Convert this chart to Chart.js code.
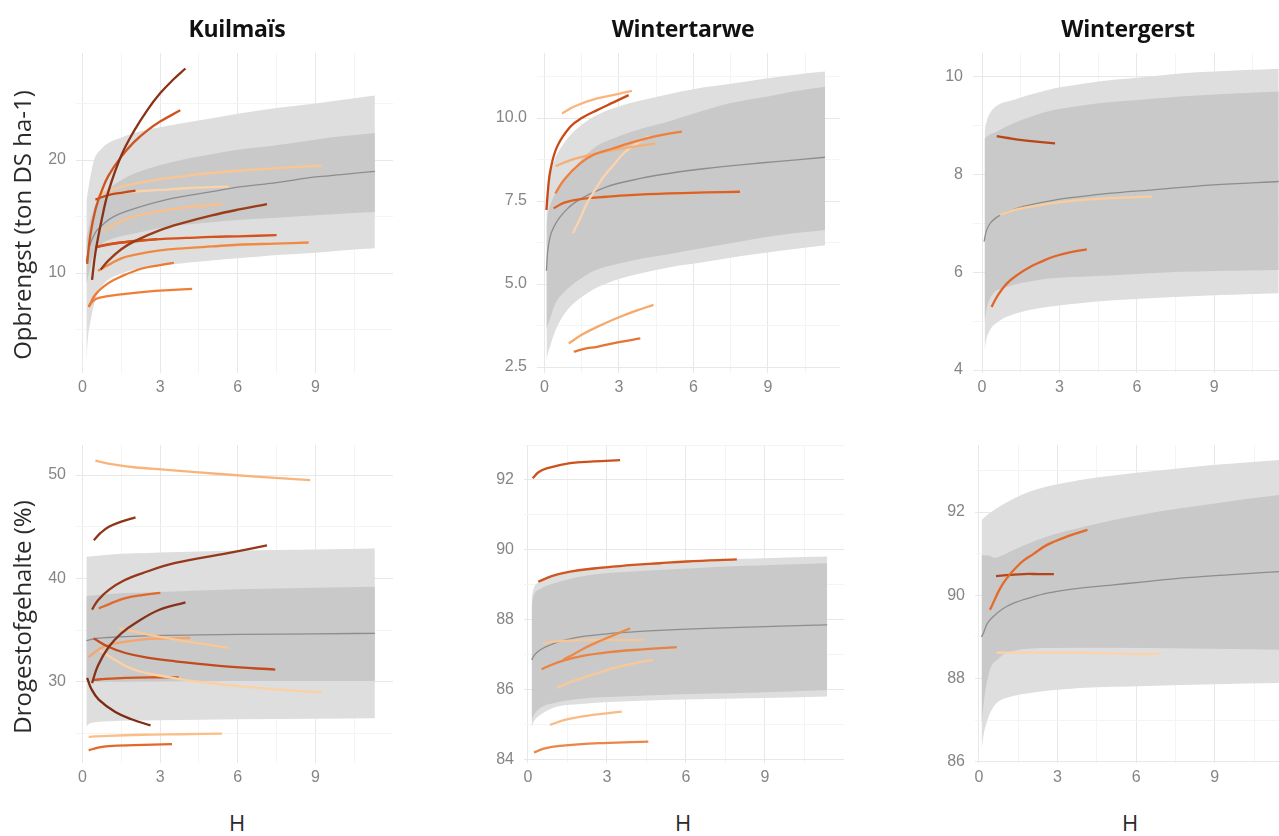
<!DOCTYPE html>
<html><head><meta charset="utf-8">
<script src="https://cdn.jsdelivr.net/npm/chart.js@4.4.1/dist/chart.umd.min.js"></script>
<style>
body{margin:0;background:#fff;width:1279px;height:836px;overflow:hidden;position:relative;font-family:"Open Sans",sans-serif;}
canvas{position:absolute;}
.t{position:absolute;transform:translate(-50%,-50%);white-space:nowrap;z-index:5;}
.title{font-weight:700;font-size:23px;color:#111;letter-spacing:-0.3px;}
.ytitle{font-size:24px;color:#2a2a2a;transform:translate(-50%,-50%) rotate(-90deg);}
.xtitle{font-size:22px;color:#2a2a2a;}
</style></head><body>
<div class="t title" style="left:237px;top:28px">Kuilmaïs</div>
<div class="t title" style="left:683px;top:28px">Wintertarwe</div>
<div class="t title" style="left:1128px;top:28px">Wintergerst</div>
<div class="t ytitle" style="left:21px;top:225px">Opbrengst (ton DS ha-1)</div>
<div class="t ytitle" style="left:21px;top:617px">Drogestofgehalte (%)</div>
<div class="t xtitle" style="left:237px;top:822px">H</div>
<div class="t xtitle" style="left:683px;top:822px">H</div>
<div class="t xtitle" style="left:1130px;top:822px">H</div>
<script>
// ---------- shared x axis ----------
const xTicks = [0,1.5,3,4.5,6,7.5,9,10.5];
const xTickLabels = [0,3,6,9];

// ---------- Kuilmaïs – Opbrengst ----------
const kmYieldX = [-0.25, 12];
const kmYieldY = [1.15, 29.47];
const kmYieldTicks = [5,10,15,20,25];
const kmYieldTickLabels = [10,20];
const kmYieldOuterTop = [[0.15,16.3],[0.25,17.8],[0.45,20.0],[0.7,20.9],[1.0,21.5],[1.5,22.0],[2.0,22.4],[3.25,23.0],[5.0,23.7],[6.0,24.1],[7.5,24.6],[9.0,25.0],[10.0,25.3],[11.3,25.7]];
const kmYieldInnerTop = [[0.15,13.0],[0.25,14.1],[0.45,15.8],[0.7,16.7],[1.0,17.4],[1.5,18.2],[2.0,18.8],[3.25,19.7],[5.0,20.5],[6.0,20.9],[7.5,21.3],[9.0,21.8],[10.0,22.1],[11.3,22.4]];
const kmYieldMean = [[0.15,11.0],[0.25,12.2],[0.5,13.6],[0.75,14.2],[1.0,14.7],[1.5,15.3],[2.0,15.7],[3.25,16.5],[5.0,17.2],[6.0,17.6],[7.5,18.0],[9.0,18.5],[10.0,18.7],[11.3,19.0]];
const kmYieldInnerBottom = [[0.15,9.0],[0.25,10.0],[0.45,11.8],[0.7,12.5],[1.0,12.9],[1.5,13.25],[2.0,13.5],[3.25,14.1],[5.0,14.5],[6.0,14.7],[7.5,14.9],[9.0,15.1],[10.0,15.25],[11.3,15.4]];
const kmYieldOuterBottom = [[0.15,2.0],[0.2,4.0],[0.3,5.6],[0.5,7.6],[0.75,8.8],[1.0,9.4],[1.5,9.95],[2.0,10.3],[3.25,10.7],[5.0,11.1],[6.0,11.3],[7.5,11.6],[9.0,11.8],[10.0,12.0],[11.3,12.2]];
const kmYieldCurves = [
  [[0.37,9.4],[0.5,11.8],[0.75,14.8],[1.0,17.2],[1.5,20.4],[2.0,22.6],[2.5,24.4],[3.0,25.9],[3.5,27.1],[3.98,28.1]],
  [[0.18,10.8],[0.3,13.3],[0.5,15.6],[0.75,17.3],[1.0,18.6],[1.5,20.3],[2.0,21.6],[2.5,22.6],[3.0,23.4],[3.78,24.4]],
  [[0.6,16.8],[1.0,17.3],[2,17.9],[3,18.3],[4,18.6],[5,18.85],[6,19.05],[7,19.2],[8,19.35],[9.25,19.5]],
  [[0.5,16.5],[1.0,16.9],[1.5,17.1],[2.05,17.3]],
  [[0.9,16.9],[2,17.2],[3,17.35],[4,17.5],[5.65,17.65]],
  [[0.8,13.8],[1.5,14.6],[2,15.0],[3,15.5],[4,15.8],[5.4,16.1]],
  [[0.7,10.3],[1.0,11.1],[1.5,12.1],[2.0,12.8],[3.0,13.8],[4.0,14.5],[5.0,15.1],[6.0,15.6],[7.13,16.1]],
  [[0.5,12.3],[1,12.55],[2,12.8],[3,13.0],[4,13.1],[5,13.2],[6,13.25],[7.5,13.35]],
  [[0.57,12.3],[1.5,12.7],[2.9,13.0]],
  [[0.6,10.2],[1.0,10.7],[1.5,11.3],[2,11.6],[3,12.0],[4,12.2],[5,12.35],[6,12.5],[7.45,12.6],[8.74,12.7]],
  [[0.24,7.0],[0.5,8.1],[1.0,9.1],[1.5,9.7],[2.3,10.4],[3.0,10.7],[3.53,10.9]],
  [[0.24,7.0],[0.4,7.5],[0.63,7.8],[1.5,8.1],[2.5,8.35],[3.5,8.5],[4.24,8.6]]
];
const kmYieldColors = ['#8a3216','#cf5520','#fbc592','#c44a16','#fbd3aa','#fbbf8a','#9a3c17','#d5521b','#c8481a','#f08a43','#ee7a33','#f07e36'];

// ---------- Wintertarwe – Opbrengst ----------
const wwYieldX = [-0.3, 11.9];
const wwYieldY = [2.32, 11.96];
const wwYieldTicks = [2.5,3.75,5,6.25,7.5,8.75,10,11.25];
const wwYieldTickLabels = [2.5,5,7.5,10];
const wwYieldOuterTop = [[0.08,7.4],[0.12,7.85],[0.2,8.2],[0.35,8.6],[0.5,8.9],[0.75,9.2],[1.0,9.45],[1.5,9.8],[2.0,10.05],[3.0,10.35],[4.0,10.55],[5.0,10.72],[6.0,10.87],[7.5,11.03],[9.0,11.2],[10.0,11.3],[11.3,11.4]];
const wwYieldInnerTop = [[0.08,6.8],[0.12,7.05],[0.2,7.3],[0.35,7.6],[0.5,7.8],[0.75,8.05],[1.0,8.3],[1.5,8.75],[2.0,9.1],[3.0,9.45],[4.0,9.7],[5.0,9.9],[6.0,10.13],[7.5,10.45],[9.0,10.65],[10.0,10.8],[11.3,10.94]];
const wwYieldMean = [[0.08,5.4],[0.12,5.9],[0.22,6.4],[0.4,6.75],[0.64,7.03],[0.9,7.25],[1.18,7.43],[1.8,7.7],[2.5,7.93],[3.86,8.18],[5.0,8.33],[6.5,8.48],[8.0,8.6],[9.2,8.68],[11.3,8.82]];
const wwYieldInnerBottom = [[0.08,3.6],[0.12,3.75],[0.2,3.9],[0.35,4.25],[0.5,4.5],[0.75,4.72],[1.0,4.9],[1.5,5.18],[2.0,5.4],[3.0,5.62],[4.0,5.78],[5.0,5.9],[6.5,6.1],[8.0,6.3],[9.5,6.48],[11.3,6.63]];
const wwYieldOuterBottom = [[0.08,2.7],[0.14,2.92],[0.22,3.1],[0.35,3.42],[0.5,3.7],[0.8,4.1],[1.18,4.42],[1.6,4.66],[2.0,4.85],[3.0,5.15],[3.86,5.32],[5.0,5.5],[6.5,5.67],[8.0,5.85],[9.5,6.0],[11.3,6.17]];
const wwYieldCurves = [
  [[0.71,10.14],[1.2,10.35],[2.12,10.59],[3.0,10.73],[3.52,10.82]],
  [[0.08,7.23],[0.15,7.9],[0.24,8.43],[0.51,9.14],[1.04,9.74],[1.5,10.0],[2.12,10.24],[2.8,10.48],[3.39,10.69]],
  [[0.44,7.73],[0.8,8.15],[1.45,8.64],[2.0,8.9],[2.78,9.09],[3.5,9.26],[4.12,9.39],[4.8,9.5],[5.53,9.59]],
  [[0.45,8.55],[1.0,8.72],[2.0,8.92],[3.0,9.07],[4.46,9.24]],
  [[1.15,6.53],[1.45,7.0],[1.71,7.43],[2.05,7.85],[2.38,8.23],[2.8,8.6],[3.19,8.94],[3.6,9.18],[4.2,9.45]],
  [[0.37,7.28],[0.8,7.45],[1.45,7.56],[2.5,7.63],[3.45,7.68],[5.0,7.73],[6.5,7.76],[7.87,7.78]],
  [[0.98,3.21],[1.5,3.47],[2.12,3.71],[3.0,4.0],[3.7,4.2],[4.39,4.37]],
  [[1.18,2.96],[1.6,3.05],[2.12,3.11],[3.0,3.25],[3.86,3.36]]
];
const wwYieldColors = ['#fbb47c','#c94a18','#ef7f3c','#f7ae72','#fcd3ad','#e0601f','#f6a96c','#e57535'];

// ---------- Wintergerst – Opbrengst ----------
const wgYieldX = [-0.35, 11.51];
const wgYieldY = [3.94, 10.49];
const wgYieldTicks = [4,5,6,7,8,9,10];
const wgYieldTickLabels = [4,6,8,10];
const wgYieldOuterTop = [[0.1,8.9],[0.18,9.1],[0.31,9.26],[0.6,9.42],[1.21,9.53],[2.5,9.73],[3.8,9.85],[5.09,9.94],[6.5,10.01],[7.67,10.07],[9.0,10.11],[10.2,10.14],[11.5,10.17]];
const wgYieldInnerTop = [[0.1,8.74],[0.3,8.82],[0.57,8.88],[1.21,9.05],[2.5,9.29],[3.8,9.41],[5.09,9.49],[6.5,9.55],[7.67,9.6],[9.0,9.64],[10.2,9.67],[11.5,9.7]];
const wgYieldMean = [[0.08,6.63],[0.15,6.82],[0.31,7.0],[0.55,7.12],[0.83,7.2],[1.3,7.3],[1.86,7.38],[2.8,7.48],[3.8,7.55],[5.0,7.62],[6.38,7.68],[8.97,7.79],[11.5,7.86]];
const wgYieldInnerBottom = [[0.1,5.0],[0.2,5.3],[0.44,5.57],[0.8,5.67],[1.21,5.74],[2.5,5.87],[3.8,5.91],[5.09,5.94],[6.5,5.98],[7.67,6.01],[9.0,6.03],[11.5,6.05]];
const wgYieldOuterBottom = [[0.08,4.3],[0.15,4.58],[0.31,4.82],[0.6,4.98],[0.96,5.09],[1.6,5.2],[2.5,5.29],[3.8,5.37],[5.09,5.43],[6.5,5.47],[7.67,5.5],[9.0,5.53],[11.5,5.57]];
const wgYieldCurves = [
  [[0.57,8.79],[1.0,8.75],[1.47,8.71],[2.2,8.67],[2.83,8.64]],
  [[0.7,7.17],[1.2,7.27],[1.86,7.34],[2.8,7.42],[3.8,7.48],[5.0,7.52],[6.58,7.55]],
  [[0.37,5.29],[0.6,5.52],[0.96,5.77],[1.4,5.96],[1.86,6.11],[2.3,6.22],[2.76,6.32],[3.4,6.41],[4.06,6.47]]
];
const wgYieldColors = ['#b9451b','#fbcc9e','#e0652a'];

// ---------- Kuilmaïs – Drogestofgehalte ----------
const kmDsX = [-0.25, 12];
const kmDsY = [22.17, 52.9];
const kmDsTicks = [25,30,35,40,45,50];
const kmDsTickLabels = [30,40,50];
const kmDsOuterTop = [[0.15,42.1],[1,42.3],[3,42.5],[6,42.7],[9,42.8],[11.3,42.9]];
const kmDsInnerTop = [[0.15,38.3],[1,38.5],[3,38.7],[6,38.95],[9,39.1],[11.3,39.2]];
const kmDsMean = [[0.15,34.0],[0.5,34.2],[1,34.3],[3,34.5],[6,34.6],[9,34.65],[11.3,34.7]];
const kmDsInnerBottom = [[0.15,30.0],[3,30.05],[6,30.1],[11.3,30.1]];
const kmDsOuterBottom = [[0.15,25.7],[0.3,26.0],[1,26.2],[3,26.3],[6,26.4],[9,26.45],[11.3,26.5]];
const kmDsCurves = [
  [[0.5,51.4],[1.0,51.1],[2.0,50.75],[3.27,50.5],[4.5,50.25],[5.84,50.0],[7.3,49.75],[8.8,49.5]],
  [[0.44,43.7],[0.7,44.4],[1.02,45.0],[1.5,45.5],[2.05,45.9]],
  [[0.37,37.0],[0.6,37.9],[1.02,38.9],[1.6,39.8],[2.3,40.5],[3.59,41.5],[5.52,42.4],[7.13,43.2]],
  [[0.63,37.1],[1.1,37.6],[1.66,38.1],[2.3,38.4],[3.01,38.6]],
  [[0.37,29.9],[0.6,31.6],[1.02,33.4],[1.5,34.7],[2.05,35.7],[2.95,36.96],[3.98,37.7]],
  [[0.44,34.2],[1.0,33.4],[1.66,32.8],[2.5,32.35],[3.59,32.0],[5.52,31.5],[7.45,31.2]],
  [[1.4,35.2],[2.5,34.6],[3.59,34.1],[4.6,33.7],[5.65,33.3]],
  [[0.24,32.4],[0.6,33.1],[1.02,33.6],[2.3,34.1],[3.2,34.2],[4.17,34.25]],
  [[0.6,33.2],[1.08,32.4],[2.0,31.2],[3.59,30.35],[4.88,29.9],[6.5,29.5],[8.22,29.15],[9.25,29.0]],
  [[0.44,30.2],[0.9,30.3],[1.66,30.4],[2.6,30.45],[3.72,30.45]],
  [[0.18,30.4],[0.35,29.3],[0.63,28.3],[1.27,27.1],[1.9,26.4],[2.63,25.8]],
  [[0.24,24.7],[1.0,24.8],[2.3,24.9],[3.8,24.95],[5.39,25.0]],
  [[0.24,23.4],[0.6,23.65],[1.02,23.8],[2.0,23.9],[3.46,24.0]]
];
const kmDsColors = ['#f9b47b','#8e3516','#953819','#e0692b','#86321a','#c24a1c','#fbc795','#f6a467','#fcd0a5','#d1561f','#7c2c14','#fbbe88','#e3692a'];

// ---------- Wintertarwe – Drogestofgehalte ----------
const wwDsX = [-0.15, 12];
const wwDsY = [83.91, 93.0];
const wwDsTicks = [84,85,86,87,88,89,90,91,92,93];
const wwDsTickLabels = [84,86,88,90,92];
const wwDsOuterTop = [[0.14,88.6],[0.2,88.86],[0.5,89.1],[0.96,89.24],[2.23,89.48],[3.5,89.56],[4.76,89.62],[6.3,89.68],[7.93,89.74],[9.5,89.78],[11.36,89.81]];
const wwDsInnerTop = [[0.14,88.4],[0.2,88.65],[0.5,88.9],[1.0,89.05],[2.23,89.27],[3.5,89.36],[4.76,89.42],[6.3,89.48],[7.93,89.54],[9.5,89.58],[11.36,89.62]];
const wwDsMean = [[0.14,86.86],[0.25,87.0],[0.46,87.14],[1.0,87.33],[1.72,87.48],[3.0,87.6],[4.26,87.67],[6.8,87.76],[9.0,87.81],[11.36,87.86]];
const wwDsInnerBottom = [[0.14,85.1],[0.2,85.24],[0.5,85.5],[0.96,85.62],[2.0,85.75],[3.5,85.81],[5.5,85.87],[8.44,85.92],[11.36,86.0]];
const wwDsOuterBottom = [[0.14,84.9],[0.2,85.05],[0.5,85.3],[1.09,85.52],[2.0,85.6],[3.5,85.67],[5.5,85.72],[8.44,85.76],[11.36,85.81]];
const wwDsCurves = [
  [[0.18,92.05],[0.4,92.22],[0.71,92.33],[1.6,92.48],[2.5,92.53],[3.5,92.57]],
  [[0.39,89.09],[0.9,89.25],[1.6,89.38],[2.5,89.47],[3.5,89.54],[5.0,89.62],[6.03,89.67],[7.93,89.73]],
  [[1.34,86.86],[1.8,87.05],[2.3,87.25],[2.8,87.42],[3.3,87.58],[3.88,87.76]],
  [[0.52,86.59],[0.9,86.72],[1.4,86.85],[2.0,86.96],[3.0,87.07],[4.0,87.14],[5.65,87.22]],
  [[0.58,87.33],[1.0,87.38],[2.0,87.42],[2.86,87.43],[4.38,87.42]],
  [[1.09,86.05],[1.6,86.22],[2.23,86.38],[2.9,86.54],[3.5,86.67],[4.1,86.77],[4.76,86.86]],
  [[0.84,85.0],[1.4,85.14],[2.23,85.26],[3.0,85.33],[3.56,85.38]],
  [[0.23,84.21],[0.6,84.32],[1.22,84.4],[2.86,84.48],[4.57,84.52]]
];
const wwDsColors = ['#cc521c','#d0561f','#ee8a48','#e98343','#f8c595','#f9c898','#f9bb86','#eb8646'];

// ---------- Wintergerst – Drogestofgehalte ----------
const wgDsX = [-0.15, 11.45];
const wgDsY = [85.97, 93.61];
const wgDsTicks = [86,87,88,89,90,91,92,93];
const wgDsTickLabels = [86,88,90,92];
const wgDsOuterTop = [[0.1,91.8],[0.17,91.85],[0.68,92.09],[1.95,92.49],[3.86,92.77],[5.13,92.88],[6.4,92.97],[7.69,93.05],[8.94,93.13],[10.2,93.19],[11.45,93.25]];
const wgDsInnerTop = [[0.1,90.97],[0.4,90.95],[0.6,90.9],[0.9,90.96],[1.32,91.09],[2.6,91.41],[3.86,91.62],[5.13,91.81],[6.4,91.96],[7.69,92.09],[8.94,92.2],[10.2,92.31],[11.45,92.41]];
const wgDsMean = [[0.1,89.0],[0.17,89.09],[0.3,89.3],[0.55,89.49],[0.9,89.67],[1.32,89.81],[2.0,89.95],[2.6,90.05],[3.86,90.17],[5.13,90.25],[6.4,90.33],[7.69,90.41],[9.5,90.49],[11.45,90.57]];
const wgDsInnerBottom = [[0.1,86.9],[0.2,87.5],[0.42,88.21],[0.7,88.45],[1.06,88.61],[2.6,88.73],[5.0,88.74],[8.0,88.72],[11.45,88.69]];
const wgDsOuterBottom = [[0.1,86.29],[0.18,86.65],[0.29,86.93],[0.45,87.2],[0.68,87.41],[1.2,87.56],[1.95,87.65],[3.86,87.77],[6.4,87.82],[9.0,87.86],[11.45,87.89]];
const wgDsCurves = [
  [[0.42,89.65],[0.93,90.29],[1.58,90.77],[2.1,91.0],[2.6,91.21],[3.4,91.42],[4.14,91.57]],
  [[0.65,90.46],[1.2,90.49],[1.7,90.51],[2.3,90.51],[2.86,90.51]],
  [[0.68,88.62],[2.0,88.62],[3.86,88.62],[5.5,88.6],[6.9,88.59]]
];
const wgDsColors = ['#e36a27','#b4451b','#fbd2ab'];

// ---------- layout (page pixels of each plot area) ----------
const panels = [
  {box:[76,53,393,373], xr:kmYieldX, yr:kmYieldY, yt:kmYieldTicks, yl:kmYieldTickLabels, fmt:v=>String(v),
   ot:kmYieldOuterTop, it:kmYieldInnerTop, m:kmYieldMean, ib:kmYieldInnerBottom, ob:kmYieldOuterBottom, c:kmYieldCurves, col:kmYieldColors},
  {box:[537,53,840,373], xr:wwYieldX, yr:wwYieldY, yt:wwYieldTicks, yl:wwYieldTickLabels, fmt:v=>v.toFixed(1),
   ot:wwYieldOuterTop, it:wwYieldInnerTop, m:wwYieldMean, ib:wwYieldInnerBottom, ob:wwYieldOuterBottom, c:wwYieldCurves, col:wwYieldColors},
  {box:[973,53,1279,373], xr:wgYieldX, yr:wgYieldY, yt:wgYieldTicks, yl:wgYieldTickLabels, fmt:v=>String(v),
   ot:wgYieldOuterTop, it:wgYieldInnerTop, m:wgYieldMean, ib:wgYieldInnerBottom, ob:wgYieldOuterBottom, c:wgYieldCurves, col:wgYieldColors},
  {box:[76,445,393,763], xr:kmDsX, yr:kmDsY, yt:kmDsTicks, yl:kmDsTickLabels, fmt:v=>String(v),
   ot:kmDsOuterTop, it:kmDsInnerTop, m:kmDsMean, ib:kmDsInnerBottom, ob:kmDsOuterBottom, c:kmDsCurves, col:kmDsColors},
  {box:[524,445,844,763], xr:wwDsX, yr:wwDsY, yt:wwDsTicks, yl:wwDsTickLabels, fmt:v=>String(v),
   ot:wwDsOuterTop, it:wwDsInnerTop, m:wwDsMean, ib:wwDsInnerBottom, ob:wwDsOuterBottom, c:wwDsCurves, col:wwDsColors},
  {box:[975,445,1279,763], xr:wgDsX, yr:wgDsY, yt:wgDsTicks, yl:wgDsTickLabels, fmt:v=>String(v),
   ot:wgDsOuterTop, it:wgDsInnerTop, m:wgDsMean, ib:wgDsInnerBottom, ob:wgDsOuterBottom, c:wgDsCurves, col:wgDsColors}
];

const pts = a => a.map(p => ({x:p[0], y:p[1]}));
const near = (arr, v) => arr.some(a => Math.abs(a - v) < 1e-9);
const TICK_FONT = {family:'"Liberation Sans", Arial, sans-serif', size:16};
const TICK_COLOR = '#858585';
const GRID_MAJOR = '#e8e8e8', GRID_MINOR = '#f4f4f4';

function makePanel(p){
  const [l,t,r,b] = p.box;
  const yW = 60, xH = 32, padT = 12;
  const W = yW + (r - l), H = padT + (b - t) + xH;
  const cv = document.createElement('canvas');
  cv.width = W; cv.height = H;
  cv.style.left = (l - yW) + 'px'; cv.style.top = (t - padT) + 'px';
  cv.style.width = W + 'px'; cv.style.height = H + 'px';
  document.body.appendChild(cv);
  const band = (data, fill, bg, order) => ({data:pts(data), fill:fill, backgroundColor:bg, borderColor:'rgba(0,0,0,0)', borderWidth:0, pointRadius:0, order:order, cubicInterpolationMode:'monotone'});
  const ds = [
    band(p.ot, '+1', '#dedede', 5),
    band(p.ob, false, 'rgba(0,0,0,0)', 5),
    band(p.it, '+1', '#c9c9c9', 4),
    band(p.ib, false, 'rgba(0,0,0,0)', 4),
    {data:pts(p.m), fill:false, borderColor:'#8d8d8d', borderWidth:1.3, pointRadius:0, order:3, cubicInterpolationMode:'monotone'}
  ];
  p.c.forEach((c,i) => ds.push({data:pts(c), fill:false, borderColor:p.col[i], borderWidth:2.3, pointRadius:0, order:1, tension:0.4}));
  new Chart(cv, {
    type:'line',
    data:{datasets:ds},
    options:{
      responsive:false, animation:false, devicePixelRatio:1,
      layout:{padding:{top:padT, left:0, right:0, bottom:0}},
      plugins:{legend:{display:false}, tooltip:{enabled:false}},
      elements:{point:{radius:0}},
      scales:{
        x:{type:'linear', min:p.xr[0], max:p.xr[1],
           afterBuildTicks:s => { s.ticks = xTicks.map(v => ({value:v})); },
           afterFit:s => { s.height = xH; s.paddingLeft = 0; s.paddingRight = 0; },
           ticks:{callback:v => near(xTickLabels, v) ? String(v) : '', color:TICK_COLOR, font:TICK_FONT, padding:5, maxRotation:0, autoSkip:false},
           grid:{color:ctx => near(xTickLabels, ctx.tick.value) ? GRID_MAJOR : GRID_MINOR, drawTicks:false, lineWidth:1},
           border:{display:false}},
        y:{type:'linear', min:p.yr[0], max:p.yr[1],
           afterBuildTicks:s => { s.ticks = p.yt.map(v => ({value:v})); },
           afterFit:s => { s.width = yW; s.paddingTop = 0; s.paddingBottom = 0; },
           ticks:{callback:v => near(p.yl, v) ? p.fmt(v) : '', color:TICK_COLOR, font:TICK_FONT, padding:10, autoSkip:false},
           grid:{color:ctx => near(p.yl, ctx.tick.value) ? GRID_MAJOR : GRID_MINOR, drawTicks:false, lineWidth:1},
           border:{display:false}}
      }
    }
  });
}
panels.forEach(makePanel);
</script>
</body></html>
